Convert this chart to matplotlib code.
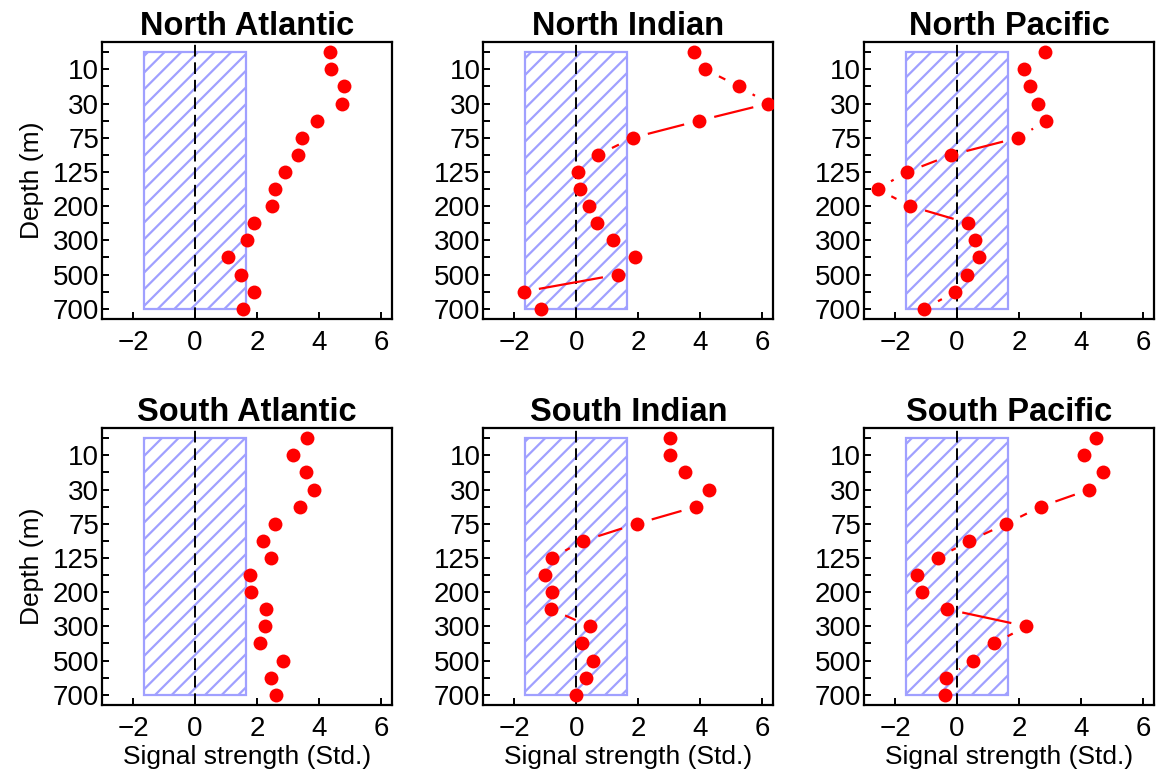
import numpy as np
import matplotlib
matplotlib.use('Agg')
import matplotlib.pyplot as plt
from matplotlib.patches import Rectangle

plt.rcParams['font.family'] = ['Liberation Sans', 'DejaVu Sans']
plt.rcParams['hatch.linewidth'] = 1.6
plt.rcParams['hatch.color'] = '#a0a0ff'

#############################################
# depth levels (m), one point per level
depths = [5, 10, 20, 30, 50, 75, 100, 125, 150, 200, 250, 300, 400, 500, 600, 700]
depth_ticklabels = ['10', '30', '75', '125', '200', '300', '500', '700']

north_atlantic = [4.35, 4.37, 4.79, 4.73, 3.92, 3.46, 3.31, 2.90, 2.58, 2.47, 1.90, 1.67, 1.05, 1.47, 1.90, 1.53]
north_indian = [3.80, 4.15, 5.25, 6.19, 3.96, 1.82, 0.70, 0.04, 0.13, 0.40, 0.67, 1.19, 1.89, 1.35, -1.70, -1.14]
north_pacific = [2.85, 2.15, 2.34, 2.61, 2.88, 1.97, -0.18, -1.61, -2.56, -1.51, 0.37, 0.59, 0.70, 0.32, -0.05, -1.05]
south_atlantic = [3.62, 3.17, 3.58, 3.82, 3.37, 2.59, 2.20, 2.44, 1.77, 1.80, 2.29, 2.24, 2.10, 2.83, 2.45, 2.61]
south_indian = [3.01, 3.03, 3.49, 4.27, 3.87, 1.95, 0.23, -0.80, -1.02, -0.78, -0.82, 0.44, 0.17, 0.54, 0.32, -0.02]
south_pacific = [4.47, 4.09, 4.71, 4.27, 2.70, 1.59, 0.40, -0.62, -1.30, -1.12, -0.32, 2.24, 1.19, 0.52, -0.35, -0.38]

basins = ['North Atlantic', 'North Indian', 'North Pacific',
          'South Atlantic', 'South Indian', 'South Pacific']
signals = [north_atlantic, north_indian, north_pacific,
           south_atlantic, south_indian, south_pacific]

noise_level = 1.645  # 90% band of noise (std)
#############################################

fig = plt.figure(figsize=(11.62, 7.76), dpi=100)

lefts = [0.0878, 0.4159, 0.7435]
bottoms = [0.5889, 0.0915]
w, h = 0.2496, 0.357
gap = 15.5  # px gap around each point (R type="b" look)

levels = np.arange(len(depths))

for k, (name, sig) in enumerate(zip(basins, signals)):
    row, col = divmod(k, 3)
    ax = fig.add_axes([lefts[col], bottoms[row], w, h])
    ax.set_xlim(-3, 6.35)
    ax.set_ylim(15.6, -0.6)

    ax.add_patch(Rectangle((-noise_level, 0), 2 * noise_level, len(depths) - 1,
                           facecolor='none', edgecolor='#a0a0ff', hatch='//',
                           linewidth=1.6, zorder=1))
    ax.axvline(0, color='k', linestyle=(0, (6, 3)), linewidth=1.4, zorder=2)

    # lines with gaps around points
    pts = ax.transData.transform(np.column_stack([sig, levels]))
    inv = ax.transData.inverted()
    for i in range(len(pts) - 1):
        d = pts[i + 1] - pts[i]
        L = np.hypot(*d)
        if L > 2 * gap:
            u = d / L
            seg = inv.transform(np.array([pts[i] + u * gap, pts[i + 1] - u * gap]))
            ax.plot(seg[:, 0], seg[:, 1], color='red', linewidth=1.6, zorder=3,
                    solid_capstyle='butt')
    ax.plot(sig, levels, 'o', color='red', markersize=10, markeredgewidth=0, zorder=4)

    ax.set_xticks([-2, 0, 2, 4, 6])
    ax.set_xticklabels(['\u22122', '0', '2', '4', '6'])
    ax.set_yticks(levels[1::2])
    ax.set_yticklabels(depth_ticklabels)
    ax.set_yticks(levels[0::2], minor=True)
    ax.tick_params(axis='both', which='both', direction='in', length=5, width=1.4,
                   labelsize=20, pad=2)
    ax.tick_params(axis='x', pad=8)
    for sp in ax.spines.values():
        sp.set_linewidth(1.6)

    ax.set_title(name, fontsize=23.5, fontweight='bold', pad=5)
    if col == 0:
        ax.set_ylabel('Depth (m)', fontsize=19, labelpad=6)
    if row == 1:
        ax.set_xlabel('Signal strength (Std.)', fontsize=19, labelpad=2)

fig.savefig('out.png', dpi=100)
